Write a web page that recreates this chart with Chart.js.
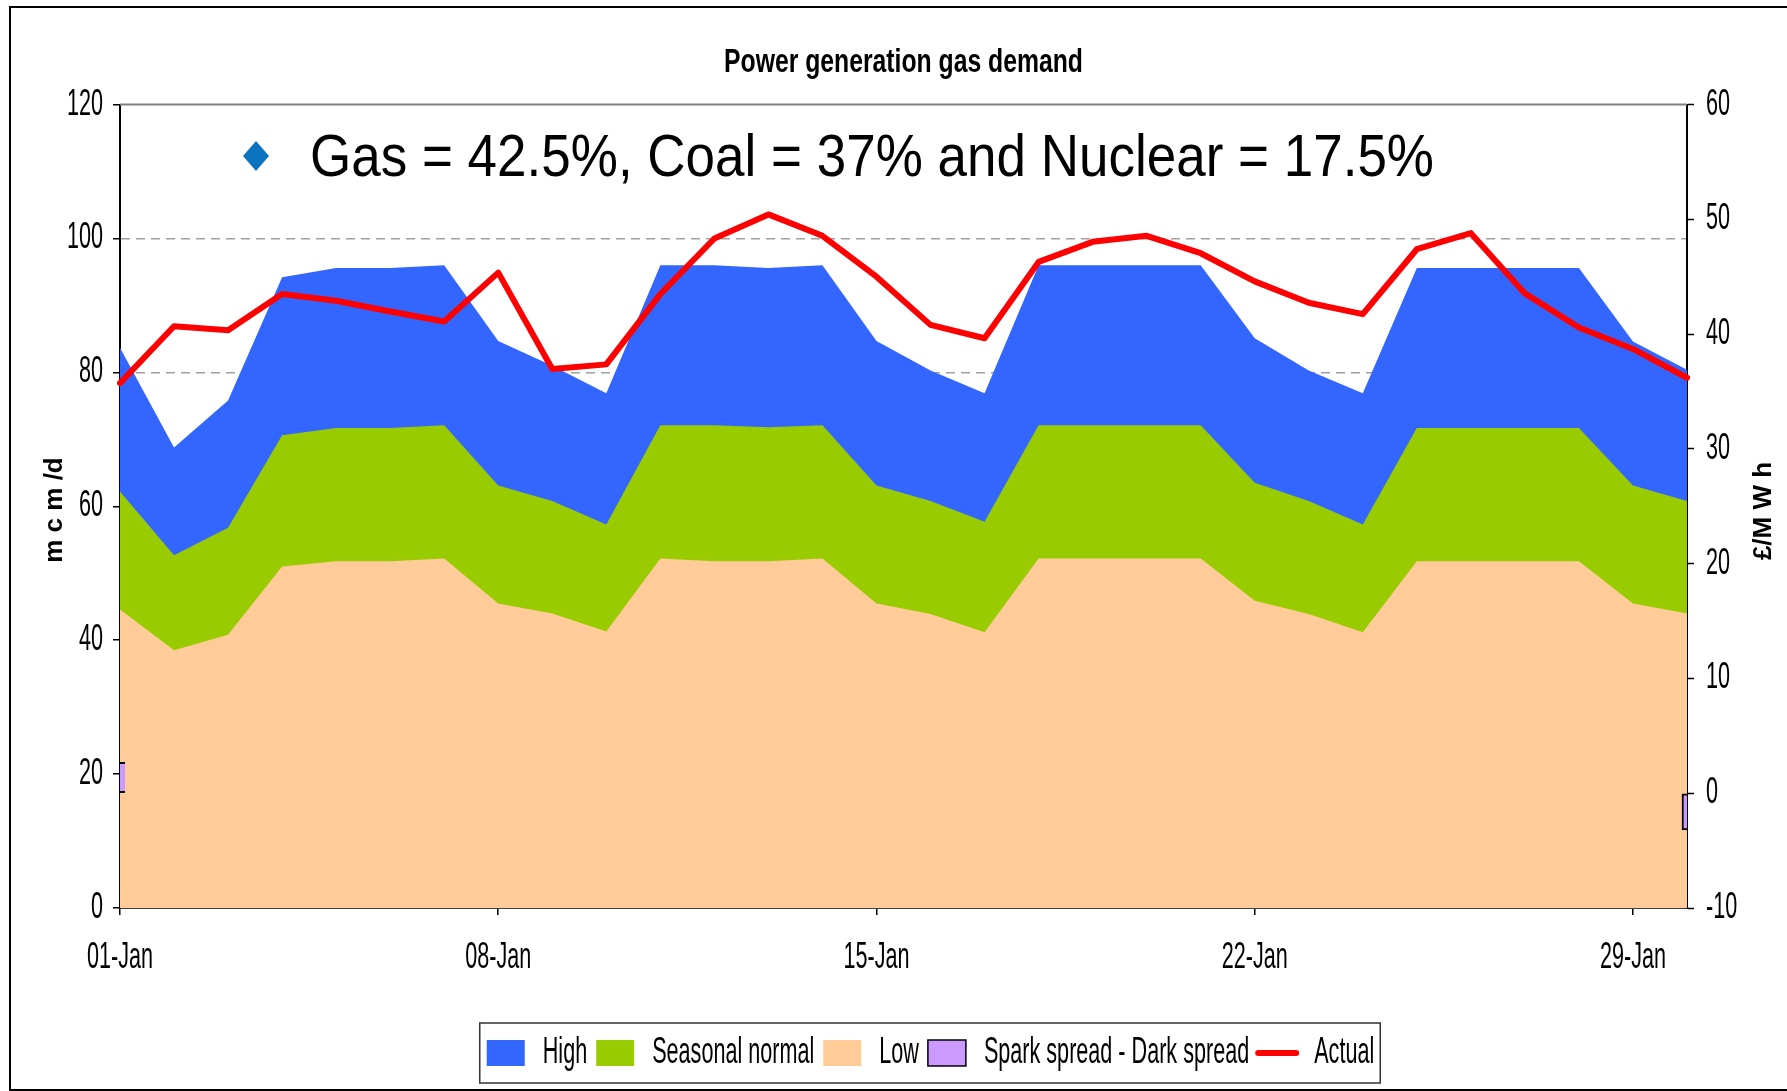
<!DOCTYPE html>
<html>
<head>
<meta charset="utf-8">
<title>Power generation gas demand</title>
<script src="https://cdn.jsdelivr.net/npm/chart.js@4.4.1/dist/chart.umd.min.js"></script>
<style>
  html, body { margin: 0; padding: 0; background: #fff; overflow: hidden; }
  #frame { position: absolute; left: 9px; top: 6px; width: 1800px; height: 1081px; border: 2px solid #000; }
  #wrap { position: absolute; left: 0; top: 0; width: 1787px; height: 1091px; }
</style>
</head>
<body>
<div id="frame"></div>
<div id="wrap"><canvas id="chart" width="1787" height="1091"></canvas></div>
<script>
const days = [
  '01-Jan', '02-Jan', '03-Jan', '04-Jan', '05-Jan', '06-Jan', '07-Jan', '08-Jan', '09-Jan', '10-Jan',
  '11-Jan', '12-Jan', '13-Jan', '14-Jan', '15-Jan', '16-Jan', '17-Jan', '18-Jan', '19-Jan', '20-Jan',
  '21-Jan', '22-Jan', '23-Jan', '24-Jan', '25-Jan', '26-Jan', '27-Jan', '28-Jan', '29-Jan', '30-Jan'
];

// mcm/d
const high = [83.7, 68.8, 75.8, 94.2, 95.6, 95.6, 96.0, 84.7, 81.0, 76.9,
  96.0, 96.0, 95.6, 96.0, 84.7, 80.3, 76.9, 96.0, 96.0, 96.0,
  96.0, 85.1, 80.3, 76.9, 95.6, 95.6, 95.6, 95.6, 84.6, 80.4];
const seasonalNormal = [62.2, 52.7, 56.8, 70.6, 71.7, 71.7, 72.1, 63.1, 60.8, 57.3,
  72.1, 72.1, 71.8, 72.1, 63.1, 60.8, 57.7, 72.1, 72.1, 72.1,
  72.1, 63.5, 60.8, 57.3, 71.7, 71.7, 71.7, 71.7, 63.1, 60.8];
const low = [44.6, 38.5, 40.8, 51.0, 51.8, 51.8, 52.2, 45.5, 44.0, 41.3,
  52.2, 51.8, 51.8, 52.2, 45.5, 43.9, 41.2, 52.2, 52.2, 52.2,
  52.2, 45.9, 43.9, 41.2, 51.8, 51.8, 51.8, 51.8, 45.5, 44.0];
const actual = [78.4, 86.9, 86.3, 91.7, 90.7, 89.1, 87.6, 94.9, 80.5, 81.2,
  91.7, 100.0, 103.6, 100.4, 94.3, 87.1, 85.1, 96.5, 99.5, 100.4,
  97.8, 93.6, 90.4, 88.7, 98.4, 100.8, 91.8, 86.7, 83.5, 79.2];
// £/MWh, only the two end bars show
const sparkDark = [2.7, null, null, null, null, null, null, null, null, null,
  null, null, null, null, null, null, null, null, null, null,
  null, null, null, null, null, null, null, null, null, -3.2];

const leftTicks = [0, 20, 40, 60, 80, 100, 120];
const rightTicks = [-10, 0, 10, 20, 30, 40, 50, 60];

const chartTitle = 'Power generation gas demand';
const note = 'Gas = 42.5%, Coal = 37% and Nuclear = 17.5%';
const leftTitle = 'm c m /d';
const rightTitle = '£/M W h';

// no narrow face installed: text set in this family gets squeezed sideways
const narrow = "'Arial Narrow', 'Liberation Sans', Arial, sans-serif";
Chart.defaults.font.family = narrow;
Chart.defaults.color = '#000';

const ctx = document.getElementById('chart').getContext('2d');

function squeezeFor(font) {
  if (!font.includes('Narrow')) return 1;
  return /bold|700/.test(font) ? 0.75 : 0.6;
}
const rawFill = ctx.fillText.bind(ctx);
const rawMeasure = ctx.measureText.bind(ctx);
ctx.fillText = function (text, x, y, maxWidth) {
  const k = squeezeFor(ctx.font);
  if (k === 1) return maxWidth === undefined ? rawFill(text, x, y) : rawFill(text, x, y, maxWidth);
  ctx.save();
  ctx.translate(x, y);
  ctx.scale(k, 1);
  if (maxWidth === undefined) rawFill(text, 0, 0);
  else rawFill(text, 0, 0, maxWidth / k);
  ctx.restore();
};
ctx.measureText = function (text) {
  const m = rawMeasure(text);
  const k = squeezeFor(ctx.font);
  if (k === 1) return m;
  return {
    width: m.width * k,
    actualBoundingBoxLeft: m.actualBoundingBoxLeft * k,
    actualBoundingBoxRight: m.actualBoundingBoxRight * k,
    actualBoundingBoxAscent: m.actualBoundingBoxAscent,
    actualBoundingBoxDescent: m.actualBoundingBoxDescent
  };
};

const decor = {
  id: 'decor',
  afterLayout(chart) {
    // legend sits a little right of centre in the original
    chart.legend.left += 37;
    chart.legend.right += 37;
  },
  afterDraw(chart) {
    const { chartArea: a } = chart;
    ctx.save();

    ctx.strokeStyle = '#808080';
    ctx.lineWidth = 2;
    ctx.beginPath();
    ctx.moveTo(a.left, a.top);
    ctx.lineTo(a.right, a.top);
    ctx.stroke();

    // axis titles, both read bottom to top
    ctx.fillStyle = '#000';
    ctx.font = "bold 26px 'Liberation Sans', Arial, sans-serif";
    ctx.textAlign = 'center';
    ctx.textBaseline = 'middle';
    ctx.save();
    ctx.translate(55, 510);
    ctx.rotate(-Math.PI / 2);
    ctx.fillText(leftTitle, 0, 0);
    ctx.restore();
    ctx.save();
    ctx.translate(1764, 511);
    ctx.rotate(-Math.PI / 2);
    ctx.fillText(rightTitle, 0, 0);
    ctx.restore();

    // note with blue diamond
    ctx.fillStyle = '#0B74C0';
    ctx.beginPath();
    ctx.moveTo(256, 141);
    ctx.lineTo(269, 156);
    ctx.lineTo(256, 171);
    ctx.lineTo(243, 156);
    ctx.closePath();
    ctx.fill();
    ctx.save();
    ctx.translate(310, 176);
    ctx.scale(1, 1.12);
    ctx.fillStyle = '#000';
    ctx.font = "53px 'Liberation Sans', Arial, sans-serif";
    ctx.textAlign = 'left';
    ctx.textBaseline = 'alphabetic';
    ctx.fillText(note, 0, 0);
    ctx.restore();

    // frame round the legend
    const boxes = chart.legend.legendHitBoxes;
    if (boxes && boxes.length) {
      const l = Math.min(...boxes.map(b => b.left)) - 7;
      const r = Math.max(...boxes.map(b => b.left + b.width)) + 6;
      const t = Math.min(...boxes.map(b => b.top)) - 12;
      const btm = Math.max(...boxes.map(b => b.top + b.height)) + 12;
      ctx.strokeStyle = '#333';
      ctx.lineWidth = 1.5;
      ctx.strokeRect(l, t, r - l, btm - t);
    }
    ctx.restore();
  }
};

new Chart(ctx, {
  type: 'line',
  data: {
    labels: days,
    datasets: [
      {
        label: 'High', data: high, yAxisID: 'y', order: 5,
        backgroundColor: '#3366FF', borderWidth: 0, fill: 'origin',
        pointRadius: 0, pointBorderWidth: 0, pointStyle: 'rect'
      },
      {
        label: 'Seasonal normal', data: seasonalNormal, yAxisID: 'y', order: 4,
        backgroundColor: '#99CC00', borderWidth: 0, fill: 'origin',
        pointRadius: 0, pointBorderWidth: 0, pointStyle: 'rect'
      },
      {
        label: 'Low', data: low, yAxisID: 'y', order: 3,
        backgroundColor: '#FFCC99', borderWidth: 0, fill: 'origin',
        pointRadius: 0, pointBorderWidth: 0, pointStyle: 'rect'
      },
      {
        type: 'bar', label: 'Spark spread - Dark spread', data: sparkDark, yAxisID: 'y2', order: 2,
        backgroundColor: '#CC99FF', borderColor: '#000',
        borderWidth: { top: 2, bottom: 2, left: 2, right: 0 }, borderSkipped: false,
        barThickness: 10, pointStyle: 'rect'
      },
      {
        label: 'Actual', data: actual, yAxisID: 'y', order: 1,
        borderColor: '#FF0000', backgroundColor: '#FF0000', borderWidth: 6, fill: false,
        borderCapStyle: 'round', borderJoinStyle: 'round',
        pointRadius: 0, pointBorderWidth: 6, pointStyle: 'line'
      }
    ]
  },
  options: {
    responsive: false,
    animation: false,
    devicePixelRatio: 1,
    layout: { padding: { top: 0, bottom: 10, left: 0, right: 0 } },
    plugins: {
      title: {
        display: true, text: chartTitle, fullSize: false,
        font: { size: 33, weight: 'bold' }, color: '#000',
        padding: { top: 43, bottom: 22 }
      },
      legend: {
        position: 'bottom',
        labels: {
          usePointStyle: true, pointStyleWidth: 38, boxHeight: 26,
          padding: 9, font: { size: 36 }, color: '#000',
          sort: (a, b) => a.datasetIndex - b.datasetIndex,
          generateLabels(chart) {
            const items = Chart.defaults.plugins.legend.labels.generateLabels(chart);
            items.forEach(it => {
              if (it.text === 'Actual') {
                it.lineCap = 'round';
                it.lineWidth = 6;
                it.strokeStyle = '#FF0000';
              }
            });
            return items;
          }
        }
      },
      tooltip: { enabled: false }
    },
    scales: {
      x: {
        type: 'category', offset: false,
        afterFit: s => { s.height = 118; },
        grid: { offset: false, drawOnChartArea: false, tickLength: 7, tickColor: '#000', lineWidth: 1.5 },
        border: { color: '#404040', width: 2 },
        ticks: {
          autoSkip: false, maxRotation: 0, padding: 21, font: { size: 36 },
          callback: (v, i) => (i % 7 === 0 ? days[i] : null)
        }
      },
      y: {
        position: 'left', min: 0, max: 120,
        afterFit: s => { s.width = 120; },
        afterBuildTicks: s => { s.ticks = leftTicks.map(v => ({ value: v })); },
        grid: {
          color: c => (c.tick && (c.tick.value === 120 || c.tick.value === 0) ? 'rgba(0,0,0,0)' : '#a0a0a0'),
          lineWidth: 1.5, tickLength: 7, tickColor: '#000', tickWidth: 1.5
        },
        border: { color: '#000', width: 2, dash: [9, 6] },
        ticks: { padding: 10, font: { size: 36 } }
      },
      y2: {
        position: 'right', min: -10, max: 60,
        afterFit: s => { s.width = 100; },
        afterBuildTicks: s => { s.ticks = rightTicks.map(v => ({ value: v })); },
        grid: { drawOnChartArea: false, tickLength: 7, tickColor: '#000', tickWidth: 1.5 },
        border: { color: '#000', width: 2 },
        ticks: { padding: 12, font: { size: 36 } }
      }
    }
  },
  plugins: [decor]
});
</script>
</body>
</html>
